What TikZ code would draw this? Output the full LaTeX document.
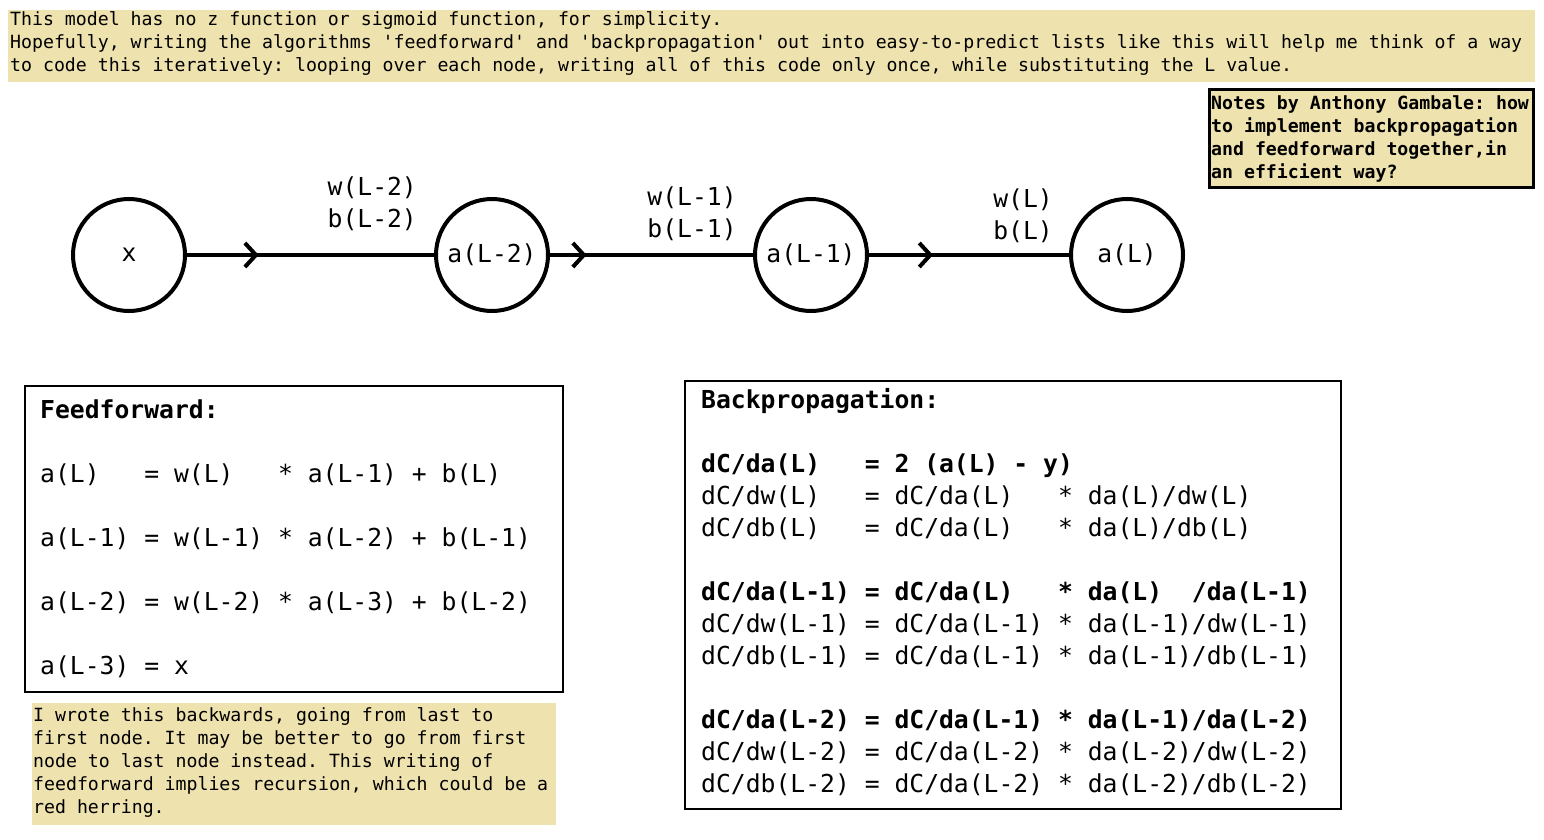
\documentclass[tikz,border=0pt]{standalone}
\usepackage{fontspec}
\setmonofont{DejaVu Sans Mono}
\usetikzlibrary{arrows.meta}
\usetikzlibrary{decorations.markings}
\usetikzlibrary{positioning}

\definecolor{notebg}{RGB}{238,226,175}
\newcommand{\notesize}{\ttfamily\fontsize{18.2pt}{23pt}\selectfont\frenchspacing}
\newcommand{\eqsize}{\ttfamily\fontsize{24.7pt}{32pt}\selectfont\frenchspacing}

\begin{document}
\begin{tikzpicture}[x=1pt,y=-1pt,
    neuron/.style={circle,draw,line width=4pt,minimum size=112pt,inner sep=0pt,font=\eqsize},
    link/.style={line width=4pt,postaction={decorate},
        decoration={markings,mark=at position #1 with {\arrow{Straight Barb[length=11pt,width=24pt]}}}},
    weights/.style={align=center,inner sep=0pt,font=\eqsize},
    notetext/.style={align=left,inner sep=0pt,anchor=base west,font=\notesize},
    eqtext/.style={align=left,inner sep=0pt,anchor=base west,font=\eqsize}]
\useasboundingbox (0,0) rectangle (1544,840);

    % notes (text nodes sit on the baseline of their last line)
\fill[notebg] (8,10) rectangle (1535,82);
\node[notetext] (intro) at (10,72) {This model has no z function or sigmoid function, for simplicity.\\Hopefully, writing the algorithms 'feedforward' and 'backpropagation' out into easy-to-predict lists like this will help me think of a way\\to code this iteratively: looping over each node, writing all of this code only once, while substituting the L value.};

\filldraw[fill=notebg,draw=black,line width=3pt] (1209,90) rectangle (1533,187);
\node[notetext,font=\notesize\bfseries] (sign) at (1211,178) {Notes by Anthony Gambale: how\\to implement backpropagation\\and feedforward together,in\\an efficient way?};

    % the network
\node[neuron] (x) at (129,255) {x};
\node[neuron] (aL2) at (492,255) {a(L-2)};
\node[neuron] (aL1) at (811,255) {a(L-1)};
\node[neuron] (aL) at (1127,255) {a(L)};

\draw[link=0.29] (x) -- (aL2) node[weights,pos=0.75,above=22pt] {w(L-2)\\b(L-2)};
\draw[link=0.18] (aL2) -- (aL1) node[weights,pos=0.70,above=12pt] {w(L-1)\\b(L-1)};
\draw[link=0.32] (aL1) -- (aL) node[weights,pos=0.77,above=10pt] {w(L)\\b(L)};

    % feedforward
\draw[line width=1.2pt] (25,386) rectangle (563,692);
\node[eqtext,font=\eqsize\fontsize{24.7pt}{64pt}\selectfont] (ff) at (40,674) {\textbf{Feedforward:}\\a(L)~~~= w(L)~~~* a(L-1) + b(L)\\a(L-1) = w(L-1) * a(L-2) + b(L-1)\\a(L-2) = w(L-2) * a(L-3) + b(L-2)\\a(L-3) = x};

\fill[notebg] (32,703) rectangle (556,825);
\node[notetext] (remark) at (33,813) {I wrote this backwards, going from last to\\first node. It may be better to go from first\\node to last node instead. This writing of\\feedforward implies recursion, which could be a\\red herring.};

    % backpropagation
\draw[line width=1.2pt] (685,381) rectangle (1341,809);
\node[eqtext] (bp) at (701,792) {\textbf{Backpropagation:}\\[32pt]
\textbf{dC/da(L)~~~= 2 (a(L) - y)}\\
dC/dw(L)~~~= dC/da(L)~~~* da(L)/dw(L)\\
dC/db(L)~~~= dC/da(L)~~~* da(L)/db(L)\\[32pt]
\textbf{dC/da(L-1) = dC/da(L)~~~* da(L)~~/da(L-1)}\\
dC/dw(L-1) = dC/da(L-1) * da(L-1)/dw(L-1)\\
dC/db(L-1) = dC/da(L-1) * da(L-1)/db(L-1)\\[32pt]
\textbf{dC/da(L-2) = dC/da(L-1) * da(L-1)/da(L-2)}\\
dC/dw(L-2) = dC/da(L-2) * da(L-2)/dw(L-2)\\
dC/db(L-2) = dC/da(L-2) * da(L-2)/db(L-2)};

\end{tikzpicture}
\end{document}
